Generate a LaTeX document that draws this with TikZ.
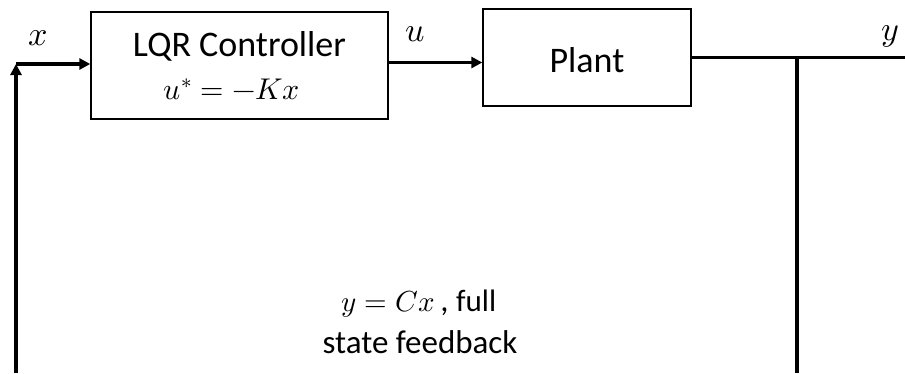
\documentclass[tikz,border=0pt]{standalone}
\usepackage{fontspec}
\usepackage{unicode-math}
\setmainfont{Carlito}
\setmathfont{Latin Modern Math}
\usetikzlibrary{arrows.meta}
\begin{document}
\begin{tikzpicture}[x=1pt,y=-1pt,
  blk/.style={draw, line width=1.4pt, inner sep=0pt},
  sig/.style={line width=3.2pt},
  arr/.style={sig, -{Triangle[length=11pt,width=11pt]}},
  lbl/.style={inner sep=0pt, font=\fontsize{34}{38}\selectfont},
  note/.style={inner sep=0pt, anchor=base, font=\fontsize{33}{37}\selectfont}]
\useasboundingbox (0,0) rectangle (905,373);
\node[blk, minimum width=297pt, minimum height=107pt] (ctrl) at (239.5,65.5) {};
\node[inner sep=0pt, font=\fontsize{36}{40}\selectfont] (ctrltxt) at (239.5,46) {LQR Controller};
\node[inner sep=0pt, font=\fontsize{30}{34}\selectfont] (law) at (232,89) {$u^{*}=-Kx$};
\node[blk, minimum width=208pt, minimum height=97pt] (plant) at (587,57.5) {};
\node[inner sep=0pt, font=\fontsize{36}{40}\selectfont] (planttxt) at (587,60) {Plant};
\coordinate (corner) at (16,64);
\coordinate (bl) at (16,373);
\coordinate (tap) at (797,57.5);
\coordinate (br) at (797,373);
\coordinate (out) at (905,57.5);
\draw[arr] (bl) -- (corner);
\draw[arr] (corner) -- (ctrl.west |- corner);
\draw[arr] (ctrl.east |- 0,62.5) -- (plant.west |- 0,62.5);
\draw[sig] (plant.east |- tap) -- (out);
\draw[sig] (tap) -- (br);
\node[lbl] (xl) at (38,38) {$x$};
\node[lbl] (ul) at (415,34.5) {$u$};
\node[lbl] (yl) at (890,36) {$y$};
\node[note] (fb1) at (419,311)
  {{\fontsize{29}{33}\selectfont$y=Cx$}\,, {\fontsize{31}{35}\selectfont full}};
\node[note] (fb2) at (420,353) {state feedback};
\end{tikzpicture}
\end{document}
